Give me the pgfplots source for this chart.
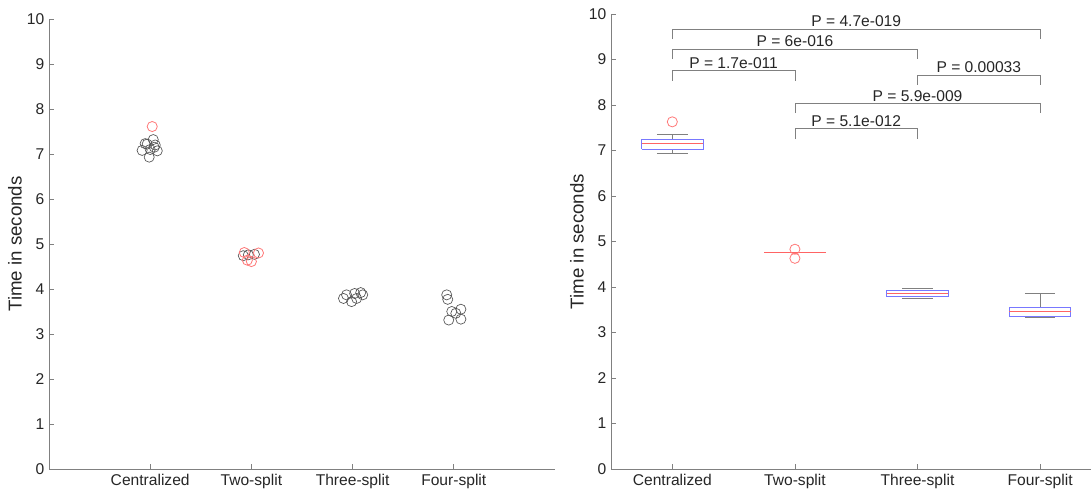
\documentclass[border=0pt]{standalone}
\usepackage{fontspec}
\setmainfont{Liberation Sans}
\usepackage{pgfplots}
\pgfplotsset{compat=1.18}

\definecolor{axgray}{RGB}{128,128,128}
\definecolor{txt}{RGB}{38,38,38}
\definecolor{ptred}{RGB}{255,120,120}
\definecolor{ptgray}{RGB}{85,85,85}
\definecolor{boxblue}{RGB}{120,120,255}
\definecolor{medred}{RGB}{255,100,100}

\pgfplotsset{
  panel/.style={
    scale only axis,
    anchor=south west,
    axis x line*=bottom, axis y line*=left,
    ymin=0, ymax=10, ytick={0,1,...,10},
    xtick={1,2,3,4},
    xticklabels={Centralized,Two-split,Three-split,Four-split},
    axis line style={axgray, line width=0.6pt},
    tick style={axgray, line width=0.6pt},
    major tick length=3.5pt,
    tick label style={font=\fontsize{11.7}{14}\selectfont, text=txt},
    ylabel={Time in seconds},
    label style={font=\fontsize{14}{16}\selectfont, text=txt},
    ylabel style={yshift=-3pt},
    /pgf/number format/assume math mode=true,
    clip=false,
  },
  pts/.style={only marks, mark=o, mark size=3.8pt, mark options={ptgray, line width=0.5pt}},
  outl/.style={only marks, mark=o, mark size=3.8pt, mark options={ptred, line width=0.6pt}},
  bxl/.style={boxblue, line width=0.6pt, no marks},
  whk/.style={axgray, line width=0.6pt, no marks},
  med/.style={medred, line width=0.8pt, no marks},
  bkt/.style={axgray, line width=0.6pt},
}
\tikzset{plab/.style={above, inner sep=1.5pt, font=\fontsize{11.7}{14}\selectfont, text=txt}}

\begin{document}
\begin{tikzpicture}

% left panel: individual runs
\begin{axis}[panel, at={(36.75pt,16.5pt)}, width=379.5pt, height=337.5pt,
  xmin=0, xmax=5]
\addplot[pts] coordinates {
  (1.03,7.32) (0.97,7.22) (1.05,7.20) (0.92,7.08) (1.00,7.10)
  (1.07,7.07) (0.99,6.93) (1.04,7.15) (0.95,7.23)
};
\addplot[pts] coordinates {
  (1.92,4.74) (1.97,4.76) (2.03,4.77)
};
\addplot[pts] coordinates {
  (2.94,3.87) (3.02,3.90) (3.08,3.92) (3.10,3.87) (2.99,3.72) (2.91,3.79) (3.04,3.79)
};
\addplot[pts] coordinates {
  (3.93,3.87) (3.94,3.77) (3.98,3.50) (4.07,3.55) (3.95,3.31) (4.07,3.33) (4.02,3.46)
};
\addplot[outl] coordinates {
  (1.02,7.61) (1.93,4.81) (2.07,4.80) (1.96,4.64) (2.00,4.61)
};
\end{axis}

% right panel: box plots with p-values
\begin{axis}[panel, at={(458.25pt,16.5pt)}, width=360pt, height=341.25pt,
  xmin=0.5, xmax=4.415]
% whiskers (stem + caps)
\addplot[whk] coordinates {(1,6.94) (1,7.03)};
\addplot[whk] coordinates {(1,7.25) (1,7.35)};
\addplot[whk] coordinates {(0.875,6.94) (1.125,6.94)};
\addplot[whk] coordinates {(0.875,7.35) (1.125,7.35)};
\addplot[whk] coordinates {(2.875,3.74) (3.125,3.74)};
\addplot[whk] coordinates {(2.875,3.96) (3.125,3.96)};
\addplot[whk] coordinates {(4,3.55) (4,3.87)};
\addplot[whk] coordinates {(3.875,3.33) (4.125,3.33)};
\addplot[whk] coordinates {(3.875,3.87) (4.125,3.87)};
% boxes
\addplot[bxl] coordinates {(0.75,7.03) (1.25,7.03) (1.25,7.25) (0.75,7.25) (0.75,7.03)};
\addplot[bxl] coordinates {(2.75,3.79) (3.25,3.79) (3.25,3.92) (2.75,3.92) (2.75,3.79)};
\addplot[bxl] coordinates {(3.75,3.36) (4.25,3.36) (4.25,3.55) (3.75,3.55) (3.75,3.36)};
% medians
\addplot[med] coordinates {(0.75,7.16) (1.25,7.16)};
\addplot[med] coordinates {(1.75,4.76) (2.25,4.76)};
\addplot[med] coordinates {(2.75,3.85) (3.25,3.85)};
\addplot[med] coordinates {(3.75,3.47) (4.25,3.47)};
% outliers
\addplot[outl] coordinates {(1,7.63) (2,4.83) (2,4.63)};

\addplot[bkt] coordinates {(1,9.45) (1,9.67) (4,9.67) (4,9.45)};
\node[plab] at (axis cs:2.5,9.67) {P = 4.7e-019};
\addplot[bkt] coordinates {(1,9.01) (1,9.23) (3,9.23) (3,9.01)};
\node[plab] at (axis cs:2,9.23) {P = 6e-016};
\addplot[bkt] coordinates {(1,8.53) (1,8.75) (2,8.75) (2,8.53)};
\node[plab] at (axis cs:1.5,8.75) {P = 1.7e-011};
\addplot[bkt] coordinates {(3,8.44) (3,8.65) (4,8.65) (4,8.44)};
\node[plab] at (axis cs:3.5,8.65) {P = 0.00033};
\addplot[bkt] coordinates {(2,7.82) (2,8.03) (4,8.03) (4,7.82)};
\node[plab] at (axis cs:3,8.03) {P = 5.9e-009};
\addplot[bkt] coordinates {(2,7.25) (2,7.48) (3,7.48) (3,7.25)};
\node[plab] at (axis cs:2.5,7.48) {P = 5.1e-012};
\end{axis}

\pgfresetboundingbox
\useasboundingbox (0,0) rectangle (818.25pt,368.25pt);
\end{tikzpicture}
\end{document}
